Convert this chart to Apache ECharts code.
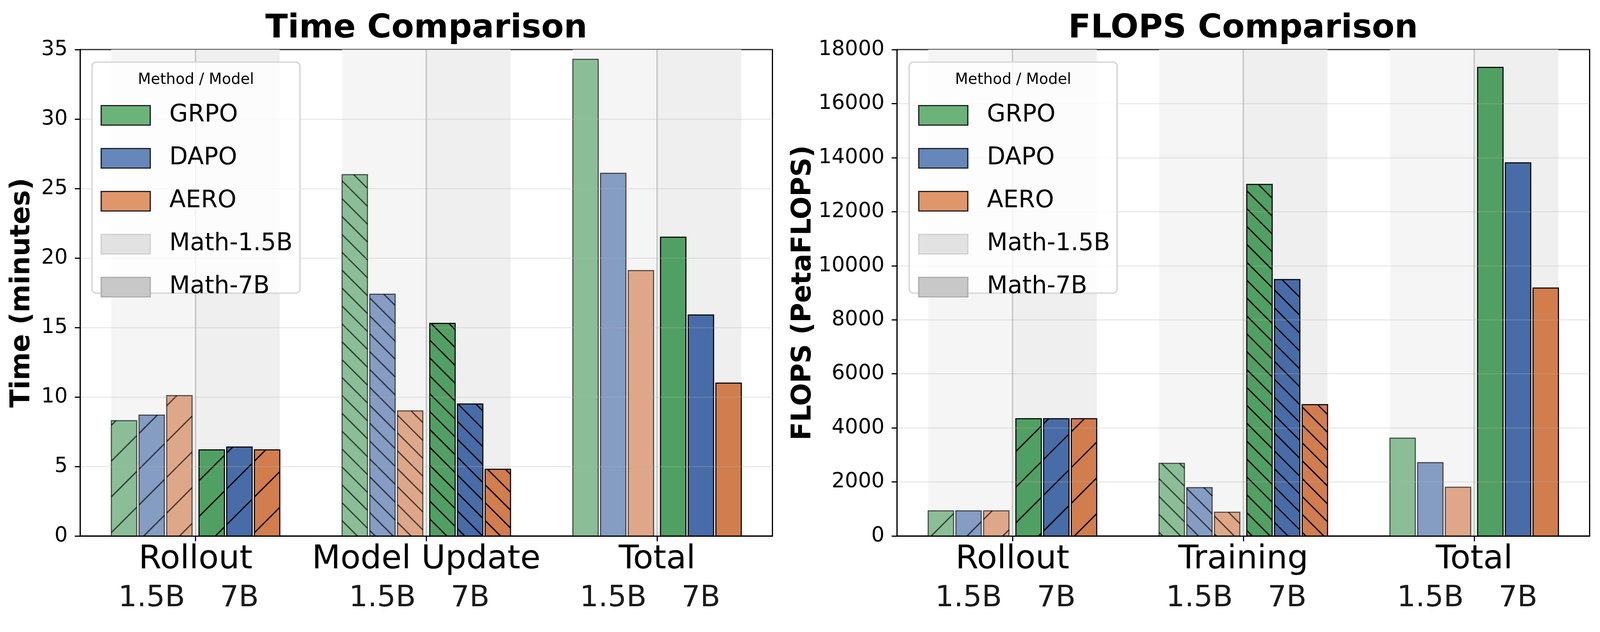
<!DOCTYPE html>
<html><head><meta charset="utf-8">
<script src="https://cdn.jsdelivr.net/npm/echarts@6/dist/echarts.min.js"></script>
<style>html,body{margin:0;padding:0;background:#fff;overflow:hidden}#c{width:100vw;height:100vh}</style>
</head><body><div id="c"></div>
<script>
// ---------------- data ----------------
const methods = ['GRPO', 'DAPO', 'AERO'];
const modelSizes = ['1.5B', '7B'];
const sizeLegend = ['Math-1.5B', 'Math-7B'];

const timeCategories = ['Rollout', 'Model Update', 'Total'];
const flopsCategories = ['Rollout', 'Training', 'Total'];
const groupHatches = ['/', '\\', ''];

// Time (minutes)
const timeGRPO_15B = [8.3, 26.0, 34.3];
const timeGRPO_7B  = [6.2, 15.3, 21.5];
const timeDAPO_15B = [8.7, 17.4, 26.1];
const timeDAPO_7B  = [6.4, 9.5, 15.9];
const timeAERO_15B = [10.1, 9.0, 19.1];
const timeAERO_7B  = [6.2, 4.8, 11.0];

// FLOPS (PetaFLOPS)
const flopsGRPO_15B = [930, 2690, 3620];
const flopsGRPO_7B  = [4340, 13010, 17340];
const flopsDAPO_15B = [930, 1790, 2715];
const flopsDAPO_7B  = [4340, 9490, 13810];
const flopsAERO_15B = [930, 880, 1805];
const flopsAERO_7B  = [4340, 4860, 9175];

const timeTicks = [0, 5, 10, 15, 20, 25, 30, 35];
const flopsTicks = [0, 2000, 4000, 6000, 8000, 10000, 12000, 14000, 16000, 18000];

// ---------------- layout scaling (design size 4470 x 1619) ----------------
const el = document.getElementById('c');
const VW = el.clientWidth || window.innerWidth || 4470;
const VH = el.clientHeight || window.innerHeight || 1619;
const SX = VW / 4470, SY = VH / 1619, SF = Math.min(SX, SY);
function X(v) { return v * SX; }
function Y(v) { return v * SY; }
function F(v) { return v * SF; }

// ---------------- style ----------------
const FONT = 'DejaVu Sans';
const barRGB = { GRPO: [81, 160, 99], DAPO: [72, 108, 167], AERO: [210, 125, 78] };
const legendFill = { GRPO: '#6bb37b', DAPO: '#6687ba', AERO: '#e0966b' };

function rgba(c, a) { return 'rgba(' + c[0] + ',' + c[1] + ',' + c[2] + ',' + a + ')'; }

function clipHatch(x0, y0, x1, y1, kind, spacing) {
  const segs = [];
  if (kind === '/') { // x + y = c
    const cStart = Math.ceil((x0 + y0) / spacing) * spacing;
    for (let c = cStart; c <= x1 + y1; c += spacing) {
      const xs = Math.max(x0, c - y1), xe = Math.min(x1, c - y0);
      if (xe > xs) segs.push([xs, c - xs, xe, c - xe]);
    }
  } else if (kind === '\\') { // y = x + c
    const cStart = Math.ceil((y0 - x1) / spacing) * spacing;
    for (let c = cStart; c <= y1 - x0; c += spacing) {
      const xs = Math.max(x0, y0 - c), xe = Math.min(x1, y1 - c);
      if (xe > xs) segs.push([xs, xs + c, xe, xe + c]);
    }
  }
  return segs;
}

function barRenderer(mIdx, method) {
  return function (params, api) {
    const ci = api.value(0);
    const base = api.coord([ci, 0]);
    const W = api.size([1, 0])[0];
    const bw = 0.11 * W;
    const children = [];
    [1, 2].forEach(function (dim, s) {
      const v = api.value(dim);
      const top = api.coord([ci, v])[1];
      const off = s === 0 ? (-0.31 + 0.12 * mIdx) : (0.07 + 0.12 * mIdx);
      const x0 = base[0] + off * W - bw / 2, x1 = x0 + bw, y0 = top, y1 = base[1];
      const light = s === 0;
      const fill = light ? rgba(barRGB[method], 0.65) : rgba(barRGB[method], 1);
      const ink = light ? 'rgba(0,0,0,0.65)' : '#000';
      children.push({ type: 'rect', shape: { x: x0, y: y0, width: bw, height: y1 - y0 }, style: { fill: fill } });
      const kind = groupHatches[ci];
      if (kind) {
        const sp = F(kind === '/' ? 100 : 50);
        clipHatch(x0, y0, x1, y1, kind, sp).forEach(function (g) {
          children.push({ type: 'line', shape: { x1: g[0], y1: g[1], x2: g[2], y2: g[3] }, style: { stroke: ink, lineWidth: F(3.6) } });
        });
      }
      children.push({ type: 'rect', shape: { x: x0, y: y0, width: bw, height: y1 - y0 }, style: { fill: 'none', stroke: ink, lineWidth: F(3) } });
    });
    return { type: 'group', children: children };
  };
}

function bgRender(params, api) {
  const ci = api.value(0);
  const c = api.coord([ci, 0]);
  const W = api.size([1, 0])[0];
  const cs = params.coordSys;
  return { type: 'group', children: [
    { type: 'rect', shape: { x: c[0] - 0.365 * W, y: cs.y, width: 0.365 * W, height: cs.height }, style: { fill: '#f5f5f5' } },
    { type: 'rect', shape: { x: c[0], y: cs.y, width: 0.365 * W, height: cs.height }, style: { fill: '#efefef' } },
    { type: 'line', shape: { x1: c[0], y1: cs.y, x2: c[0], y2: cs.y + cs.height }, style: { stroke: '#c2c2c2', lineWidth: F(3.5) } }
  ] };
}

const seriesValues = {
  time: { GRPO: [timeGRPO_15B, timeGRPO_7B], DAPO: [timeDAPO_15B, timeDAPO_7B], AERO: [timeAERO_15B, timeAERO_7B] },
  flops: { GRPO: [flopsGRPO_15B, flopsGRPO_7B], DAPO: [flopsDAPO_15B, flopsDAPO_7B], AERO: [flopsAERO_15B, flopsAERO_7B] }
};

function buildSeries(key, axisIndex, cats) {
  const out = [];
  out.push({ type: 'custom', name: '_bg' + key, xAxisIndex: axisIndex, yAxisIndex: axisIndex, z: 1, silent: true,
    renderItem: bgRender, encode: { x: 0, y: 1 }, data: cats.map(function (c, i) { return [i, 0]; }) });
  methods.forEach(function (m, mi) {
    const vals = seriesValues[key][m];
    out.push({ type: 'custom', name: m, xAxisIndex: axisIndex, yAxisIndex: axisIndex, z: 2,
      renderItem: barRenderer(mi, m), encode: { x: 0, y: [1, 2] },
      itemStyle: { color: legendFill[m] },
      data: cats.map(function (c, i) { return [i, vals[0][i], vals[1][i]]; }) });
  });
  sizeLegend.forEach(function (n, i) {
    out.push({ type: 'bar', name: n, xAxisIndex: axisIndex, yAxisIndex: axisIndex, data: [],
      itemStyle: { color: i === 0 ? '#e2e2e2' : '#c8c8c8' } });
  });
  return out;
}

const legendData = methods.map(function (m) {
  return { name: m, itemStyle: { color: legendFill[m], borderColor: '#222', borderWidth: F(3.5) } };
}).concat([
  { name: 'Math-1.5B', itemStyle: { color: '#e2e2e2', borderColor: '#d0d0d0', borderWidth: F(3.5) } },
  { name: 'Math-7B', itemStyle: { color: '#c8c8c8', borderColor: '#adadad', borderWidth: F(3.5) } }
]);

const grids = [
  { left: X(224), right: X(4470 - 2158), top: Y(127), bottom: Y(1619 - 1373) },
  { left: X(2506), right: X(4470 - 4441), top: Y(127), bottom: Y(1619 - 1373) }
];

function xAxisFor(cats, gi) {
  return {
    type: 'category', gridIndex: gi, data: cats, boundaryGap: true, z: 3,
    axisLine: { show: true, lineStyle: { color: '#000', width: F(3.3) } },
    axisTick: { show: true, alignWithLabel: true, length: F(15), lineStyle: { color: '#000', width: F(3.3) } },
    splitLine: { show: false },
    axisLabel: {
      interval: 0, margin: Y(12), color: '#000', fontFamily: FONT,
      formatter: function (v) { return '{cat|' + v + '}\n{sub|' + modelSizes[0] + '}{sub|' + modelSizes[1] + '}'; },
      rich: {
        cat: { fontSize: F(92), fontFamily: FONT, color: '#000', lineHeight: Y(99), align: 'center' },
        sub: { fontSize: F(82), fontFamily: FONT, color: '#1a1a1a', lineHeight: Y(99), width: X(245), align: 'center' }
      }
    }
  };
}

function yAxisFor(ticks, gi, name, gap) {
  return {
    type: 'value', gridIndex: gi, min: ticks[0], max: ticks[ticks.length - 1], interval: ticks[1] - ticks[0], z: 3,
    name: name, nameLocation: 'middle', nameRotate: 90, nameGap: X(gap),
    nameTextStyle: { fontFamily: FONT, fontSize: F(75), fontWeight: 'bold', color: '#000' },
    axisLine: { show: true, lineStyle: { color: '#000', width: F(3.3) } },
    axisTick: { show: true, length: F(15), lineStyle: { color: '#000', width: F(3.3) } },
    axisLabel: { margin: X(35), fontFamily: FONT, fontSize: F(58), color: '#000', formatter: function (v) { return String(v); } },
    splitLine: { show: true, lineStyle: { color: 'rgba(176,176,176,0.32)', width: F(3) } }
  };
}

function legendFor(left) {
  return {
    orient: 'vertical', left: X(left), top: Y(265), padding: 0, z: 12, icon: 'rect',
    itemWidth: X(137), itemHeight: Y(50), itemGap: Y(49), selectedMode: false,
    textStyle: { fontFamily: FONT, fontSize: F(67), color: '#000', lineHeight: Y(50), padding: [0, 0, 0, X(48)] },
    data: legendData
  };
}

function legendBox(x) {
  return [
    { type: 'rect', z: 10, shape: { x: X(x), y: Y(159), width: X(581), height: Y(592), r: F(12) },
      style: { fill: 'rgba(255,255,255,0.8)', stroke: '#d6d6d6', lineWidth: F(4) } },
    { type: 'text', z: 13, x: X(x + 290.5), y: Y(205),
      style: { text: 'Method / Model', fontFamily: FONT, fontSize: F(42), fill: '#000', align: 'center', verticalAlign: 'middle' } }
  ];
}

const chart = echarts.init(el, null, { renderer: 'canvas', width: VW, height: VH });
chart.setOption({
  backgroundColor: '#ffffff',
  animation: false,
  title: [
    { text: 'Time Comparison', left: X(1191), top: Y(32), padding: 0, textAlign: 'center',
      textStyle: { fontFamily: FONT, fontSize: F(92), fontWeight: 'bold', color: '#000' } },
    { text: 'FLOPS Comparison', left: X(3473), top: Y(32), padding: 0, textAlign: 'center',
      textStyle: { fontFamily: FONT, fontSize: F(92), fontWeight: 'bold', color: '#000' } }
  ],
  grid: grids.map(function (g) { return Object.assign({ show: true, borderColor: '#000', borderWidth: F(3.3), backgroundColor: '#fff' }, g); }),
  xAxis: [xAxisFor(timeCategories, 0), xAxisFor(flopsCategories, 1)],
  yAxis: [yAxisFor(timeTicks, 0, 'Time (minutes)', 124), yAxisFor(flopsTicks, 1, 'FLOPS (PetaFLOPS)', 222)],
  legend: [legendFor(281), legendFor(2565)],
  graphic: legendBox(257).concat(legendBox(2540)),
  series: buildSeries('time', 0, timeCategories).concat(buildSeries('flops', 1, flopsCategories))
});
</script></body></html>
